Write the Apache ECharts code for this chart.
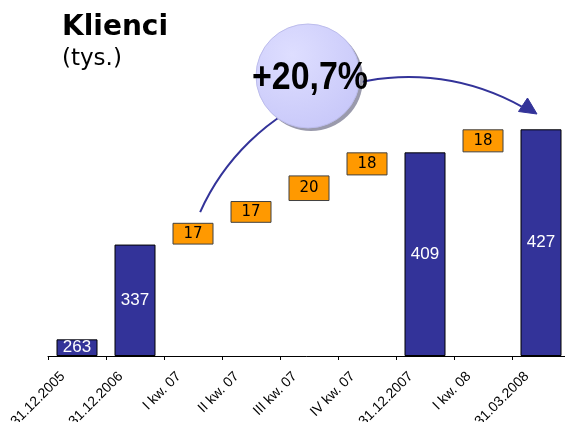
<!DOCTYPE html>
<html>
<head>
<meta charset="utf-8">
<script src="https://cdn.jsdelivr.net/npm/echarts@6/dist/echarts.min.js"></script>
<style>
  html, body { margin: 0; padding: 0; background: #ffffff; }
  #chart { width: 565px; height: 422px; }
</style>
</head>
<body>
<div id="chart"></div>
<script>
// ---- data ----
const categories = ['31.12.2005', '31.12.2006', 'I kw. 07', 'II kw. 07', 'III kw. 07', 'IV kw. 07', '31.12.2007', 'I kw. 08', '31.03.2008'];
const totals  = [263, 337, null, null, null, null, 409, null, 427];
const changes = [null, null, 17, 17, 20, 18, null, 18, null];
const titleText = 'Klienci';
const unitText = '(tys.)';
const growthText = '+20,7%';

// ---- derived for waterfall layout ----
const axisMin = 250;
const baseData = [], totalData = [], changeData = [];
let level = 0;
for (let i = 0; i < categories.length; i++) {
  if (totals[i] != null) {
    baseData.push(axisMin);
    totalData.push(totals[i] - axisMin);
    changeData.push('-');
    level = totals[i];
  } else {
    baseData.push(level);
    totalData.push('-');
    changeData.push(changes[i]);
    level += changes[i];
  }
}

const chart = echarts.init(document.getElementById('chart'), null, { renderer: 'canvas' });

const arcCx = 409, arcCy = 306, arcR = 229;

chart.setOption({
  animation: false,
  backgroundColor: '#ffffff',
  grid: { left: 48, top: 23, width: 522, height: 333, containLabel: false, outerBoundsMode: 'none' },
  xAxis: {
    type: 'category',
    data: categories,
    boundaryGap: true,
    axisLine: { show: true, lineStyle: { color: '#000000', width: 1 } },
    axisTick: { show: true, length: 4, interval: 0, lineStyle: { color: '#000000' } },
    axisLabel: {
      interval: 0,
      rotate: 45,
      margin: 4,
      padding: [0, 20, 0, 0],
      color: '#000000',
      fontFamily: 'Liberation Sans',
      fontSize: 14
    },
    splitLine: { show: false }
  },
  yAxis: {
    type: 'value',
    min: axisMin,
    max: 510,
    show: false,
    splitLine: { show: false }
  },
  series: [
    {
      name: 'base',
      type: 'bar',
      stack: 'w',
      data: baseData,
      barWidth: 41,
      silent: true,
      itemStyle: { color: 'rgba(0,0,0,0)', borderWidth: 0 }
    },
    {
      name: 'totals',
      type: 'bar',
      stack: 'w',
      data: totalData,
      barWidth: 41,
      itemStyle: { color: '#333399', borderColor: '#000000', borderWidth: 1 },
      label: {
        show: true,
        position: 'inside',
        color: '#ffffff',
        fontFamily: 'Liberation Sans',
        fontSize: 17,
        formatter: p => String(totals[p.dataIndex])
      }
    },
    {
      name: 'changes',
      type: 'bar',
      stack: 'w',
      data: changeData,
      barWidth: 41,
      itemStyle: { color: '#ff9900', borderColor: '#404040', borderWidth: 1 },
      label: {
        show: true,
        position: 'inside',
        color: '#000000',
        fontFamily: 'DejaVu Sans',
        fontSize: 15,
        formatter: p => String(changes[p.dataIndex])
      }
    }
  ],
  graphic: [
    {
      type: 'text',
      left: 62, top: 14,
      style: { text: titleText, fontFamily: 'DejaVu Sans', fontWeight: 'bold', fontSize: 28, fill: '#000000' }
    },
    {
      type: 'text',
      left: 62, top: 48,
      style: { text: unitText, fontFamily: 'DejaVu Sans', fontSize: 23, fill: '#000000' }
    },
    {
      type: 'arc',
      z: 10,
      shape: {
        cx: arcCx, cy: arcCy, r: arcR,
        startAngle: Math.atan2(212 - arcCy, 200 - arcCx) + 2 * Math.PI,
        endAngle: 299.5 * Math.PI / 180,
        clockwise: true
      },
      style: { stroke: '#333399', lineWidth: 2, fill: null }
    },
    {
      type: 'polygon',
      z: 10,
      shape: { points: [[537, 114], [527.5, 98], [518.5, 111.5]] },
      style: { fill: '#333399', stroke: '#333399', lineWidth: 1 }
    },
    {
      type: 'circle',
      z: 11,
      shape: { cx: 311, cy: 79, r: 52 },
      style: { fill: '#9a9aac' }
    },
    {
      type: 'circle',
      z: 12,
      shape: { cx: 308, cy: 76, r: 52 },
      style: {
        fill: new echarts.graphic.RadialGradient(0.35, 0.3, 0.9, [
          { offset: 0, color: '#dedeff' },
          { offset: 1, color: '#c4c4f8' }
        ]),
        stroke: '#bcbcec', lineWidth: 1
      }
    },
    {
      type: 'text',
      z: 13,
      x: 310, y: 78,
      scaleX: 0.87,
      originX: 0, originY: 0,
      style: {
        text: growthText,
        fontFamily: 'Liberation Sans',
        fontWeight: 'bold',
        fontSize: 39,
        fill: '#000000',
        align: 'center',
        verticalAlign: 'middle'
      }
    }
  ]
});
</script>
</body>
</html>
